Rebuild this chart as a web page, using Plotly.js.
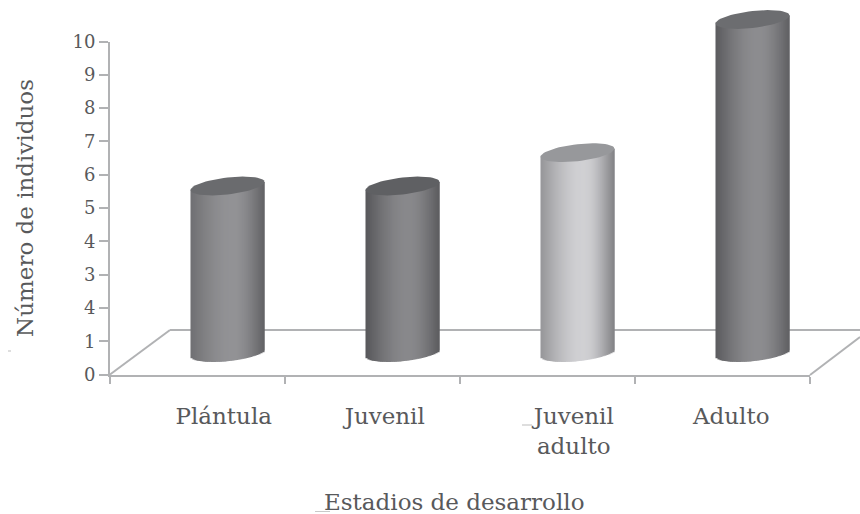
<!DOCTYPE html>
<html>
<head>
<meta charset="utf-8">
<script src="https://cdn.plot.ly/plotly-3.0.1.min.js"></script>
<style>html,body{margin:0;padding:0;background:#fff}</style>
</head>
<body>
<div id="chart" style="width:860px;height:514px"></div>
<script>
// ---- data ----
const categories = ["Plántula", "Juvenil", "Juvenil<br>adulto", "Adulto"];
const values = [5, 5, 6, 10];
const yTickVals = [0, 1, 2, 3, 4, 5, 6, 7, 8, 9, 10];
const yTickText = ["0", "1", "4", "3", "4", "5", "6", "7", "8", "9", "10"]; // the reference prints "4" at 2
const xTitle = "Estadios de desarrollo";
const yTitle = "Número de individuos";

// ---- styling ----
const W = 860, H = 514;
const font = "DejaVu Serif";
const textColor = "#58595b", axisColor = "#b1b2b4";
const pxX = 700 / 4, pxY = 333 / 10;
const labelPos = [0.15, 1.07, 2.15, 3.05];
const bw = 0.423, N = 37, aPx = 37, bPx = 8.5, tiltPx = 4;
// [edge left, centre, edge right] gray levels per cylinder
const shade = [[112, 146, 98], [88, 136, 92], [150, 208, 130], [92, 140, 96]];
const capColor = ["#6a6b6e", "#5f6063", "#97989b", "#6c6d70"];

function gray(i, u) {
  const s = shade[i], peak = 0.15;
  const t = u < peak ? (u + 1) / (1 + peak) : (1 - u) / (1 - peak);
  const e = u < peak ? s[0] : s[2];
  const v = Math.round(e + (s[1] - e) * Math.pow(Math.sin(t * Math.PI / 2), 1.1));
  return `rgb(${v},${v},${v + 3})`;
}

const idx = categories.map((_, i) => i);
const traces = [];
// invisible carrier so that the primary axes are drawn
traces.push({type: "scatter", mode: "markers", x: idx, y: values, marker: {opacity: 0, size: 1},
  xaxis: "x", yaxis: "y", hoverinfo: "skip", showlegend: false});
// body of each cylinder
traces.push({type: "bar", x: idx, y: values, width: bw * 0.88, xaxis: "x2", yaxis: "y2",
  marker: {color: idx.map(i => gray(i, 0.1)), line: {width: 0}}, hoverinfo: "skip", showlegend: false});
// shaded strips, each one overlapping the next so that no seam shows
const sw = bw / N;
for (let k = 0; k < N; k++) {
  const u = -1 + (2 * k + 1) / N;
  const shear = tiltPx * u / pxY;
  const low = shear - bPx * Math.sqrt(1 - u * u) / pxY;
  traces.push({type: "bar", x: idx, y: values.map(v => v + shear - low), base: idx.map(() => low),
    width: k < N - 1 ? 2 * sw : sw, offset: u * bw / 2 - sw / 2, xaxis: "x2", yaxis: "y2",
    marker: {color: idx.map(i => gray(i, u)), line: {width: 0}}, hoverinfo: "skip", showlegend: false});
}
// top caps
idx.forEach(i => {
  const xs = [], ys = [];
  for (let d = 0; d <= 360; d += 6) {
    const r = d * Math.PI / 180, c = Math.cos(r), s = Math.sin(r);
    xs.push(i + aPx * c / pxX);
    ys.push(values[i] + (tiltPx * c + bPx * s) / pxY);
  }
  traces.push({type: "scatter", mode: "lines", x: xs, y: ys, fill: "toself", fillcolor: capColor[i],
    line: {width: 0, color: capColor[i]}, xaxis: "x2", yaxis: "y2", hoverinfo: "skip", showlegend: false});
});

const line = (x0, y0, x1, y1, w, c) => ({type: "line", xref: "paper", yref: "paper", layer: "below",
  x0: x0 / W, x1: x1 / W, y0: 1 - y0 / H, y1: 1 - y1 / H, line: {color: c || axisColor, width: w || 2}});

const layout = {
  width: W, height: H, margin: {l: 0, r: 0, t: 0, b: 0},
  paper_bgcolor: "#fff", plot_bgcolor: "rgba(0,0,0,0)", barmode: "overlay", showlegend: false,
  font: {family: font, color: textColor, size: 17},
  xaxis: {domain: [110 / W, 810 / W], range: [-0.5, 3.5], anchor: "y", type: "linear",
    tickmode: "array", tickvals: labelPos, ticktext: categories, ticks: "", ticklen: 0,
    ticklabelstandoff: 20, showgrid: false, zeroline: false, showline: true, linecolor: axisColor, linewidth: 2,
    tickfont: {family: font, size: 23, color: textColor},
    minor: {tickmode: "array", tickvals: [-0.5, 0.5, 1.5, 2.5, 3.5], ticks: "outside", ticklen: 7,
      tickwidth: 2, tickcolor: axisColor, showgrid: false}},
  yaxis: {domain: [1 - 374.5 / H, 1 - 41.5 / H], range: [0, 10], anchor: "x",
    tickmode: "array", tickvals: yTickVals, ticktext: yTickText, ticks: "outside", ticklen: 9,
    tickwidth: 2, tickcolor: axisColor, showgrid: false, zeroline: false, showline: true,
    linecolor: axisColor, linewidth: 2, tickfont: {family: font, size: 18, color: textColor},
    title: {text: yTitle, standoff: 32, font: {family: font, size: 23, color: textColor}}},
  xaxis2: {domain: [140 / W, 840 / W], range: [-0.5, 3.5], anchor: "y2", visible: false},
  yaxis2: {domain: [1 - 369.15 / H, 1 - 2.85 / H], range: [-0.5, 10.5], anchor: "x2", visible: false},
  shapes: [
    line(110, 374.5, 170, 330),
    line(170, 330, 860, 330),
    line(810, 375, 860, 337),
    line(315, 511.5, 330, 511.5, 1, "#c9c9c9"),
    line(522, 425, 532, 425, 1, "#bdbdbd"),
    line(8, 351, 11, 351, 1, "#bdbdbd")
  ],
  annotations: [{xref: "paper", yref: "paper", x: 454 / W, y: 1 - 502 / H, text: xTitle, showarrow: false,
    xanchor: "center", yanchor: "middle", font: {family: font, size: 23, color: textColor}}]
};

Plotly.newPlot("chart", traces, layout, {displayModeBar: false, responsive: false});
</script>
</body>
</html>
